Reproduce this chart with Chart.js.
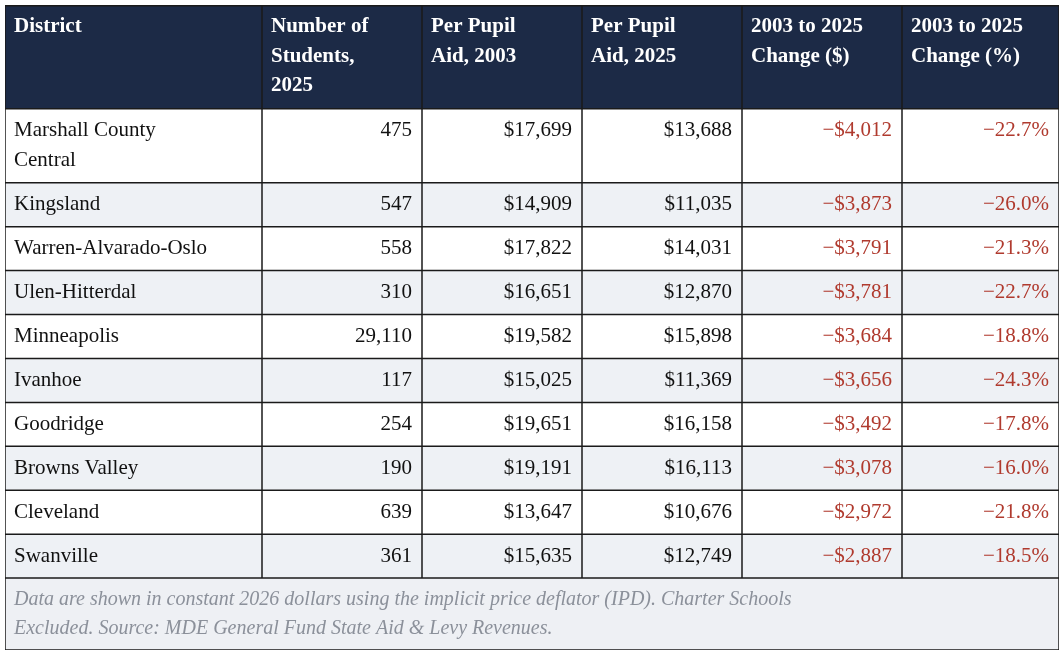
<!DOCTYPE html>
<html><head><meta charset="utf-8">
<script src="https://cdn.jsdelivr.net/npm/chart.js@4"></script>
<style>html,body{margin:0;background:#fff}#w{position:absolute;left:5px;top:5px;width:1054px;height:645px}</style>
</head><body><div id="w"><canvas id="c"></canvas></div>
<script>
const headers=[["District"],["Number of","Students,","2025"],["Per Pupil","Aid, 2003"],["Per Pupil","Aid, 2025"],["2003 to 2025","Change ($)"],["2003 to 2025","Change (%)"]];
const districts=[["Marshall County","Central"],["Kingsland"],["Warren-Alvarado-Oslo"],["Ulen-Hitterdal"],["Minneapolis"],["Ivanhoe"],["Goodridge"],["Browns Valley"],["Cleveland"],["Swanville"]];
const students=[475,547,558,310,29110,117,254,190,639,361];
const aid2003=[17699,14909,17822,16651,19582,15025,19651,19191,13647,15635];
const aid2025=[13688,11035,14031,12870,15898,11369,16158,16113,10676,12749];
const changeDollar=[-4012,-3873,-3791,-3781,-3684,-3656,-3492,-3078,-2972,-2887];
const changePct=[-22.7,-26.0,-21.3,-22.7,-18.8,-24.3,-17.8,-16.0,-21.8,-18.5];
const footnote=["Data are shown in constant 2026 dollars using the implicit price deflator (IPD). Charter Schools","Excluded. Source: MDE General Fund State Aid & Levy Revenues."];
const colWidths=[257,160,160,160,160,157];
const PAD=0.4667;

const fmtN=v=>v.toLocaleString('en-US');
const fmtD=v=>(v<0?'\u2212$':'$')+Math.abs(v).toLocaleString('en-US');
const fmtP=v=>(v<0?'\u2212':'')+Math.abs(v).toFixed(1)+'%';

const rows=[{lines:headers,type:'h',h:3+PAD}];
districts.forEach((d,i)=>rows.push({type:'b',i,h:d.length+PAD,lines:[d,[fmtN(students[i])],[fmtD(aid2003[i])],[fmtD(aid2025[i])],[fmtD(changeDollar[i])],[fmtP(changePct[i])]]}));
rows.push({type:'f',h:2+0.4,lines:footnote});
let acc=0;rows.forEach(r=>{r.y0=acc;acc+=r.h;r.y1=acc;});
const totalH=acc;
const colEdges=[0];colWidths.forEach(w=>colEdges.push(colEdges[colEdges.length-1]+w));

const tablePlugin={id:'table',afterDraw(chart){
 const ctx=chart.ctx,xs=chart.scales.x,ys=chart.scales.y;
 const X=v=>xs.getPixelForValue(v),Y=v=>ys.getPixelForValue(v);
 const unit=Y(1)-Y(0);
 ctx.save();
 rows.forEach((r,ri)=>{
  const top=Y(r.y0),bot=Y(r.y1);
  let bg=r.type==='h'?'#1c2a46':r.type==='f'?'#eef0f4':(r.i%2===1?'#eef1f5':'#ffffff');
  ctx.fillStyle=bg;ctx.fillRect(X(0),top,X(colEdges[6])-X(0),bot-top);
  ctx.textBaseline='middle';
  if(r.type==='f'){
   ctx.font='italic 20px "Liberation Serif"';ctx.fillStyle='#8b909a';ctx.textAlign='left';
   r.lines.forEach((t,k)=>ctx.fillText(t,X(0)+9,top+7+unit/2+k*unit*0.95));
   return;
  }
  r.lines.forEach((cell,c)=>{
   cell.forEach((t,k)=>{
    const yy=top+7+unit/2+k*unit*0.98;
    if(r.type==='h'){ctx.font='bold 21px "Liberation Serif"';ctx.fillStyle='#fff';ctx.textAlign='left';ctx.fillText(t,X(colEdges[c])+9,yy);}
    else{ctx.font='21px "Liberation Serif"';ctx.fillStyle=c>=4?'#b03a2e':'#111';
     if(c===0){ctx.textAlign='left';ctx.fillText(t,X(colEdges[c])+9,yy);}
     else{ctx.textAlign='right';ctx.fillText(t,X(colEdges[c+1])-10,yy);}}
   });
  });
 });
 ctx.strokeStyle='#1a1a1a';ctx.lineWidth=1.5;
 const lastBody=rows[rows.length-2].y1;
 rows.forEach(r=>{ctx.beginPath();ctx.moveTo(X(0),Y(r.y1));ctx.lineTo(X(colEdges[6]),Y(r.y1));ctx.stroke();});
 colEdges.forEach((e,i)=>{ctx.beginPath();ctx.moveTo(X(e),Y(0));ctx.lineTo(X(e),Y((i===0||i===6)?totalH:lastBody));ctx.stroke();});
 ctx.beginPath();ctx.moveTo(X(0),Y(0)+0.75);ctx.lineTo(X(colEdges[6]),Y(0)+0.75);ctx.stroke();
 ctx.restore();
}};

new Chart(document.getElementById('c'),{type:'scatter',data:{datasets:[{data:[]}]},
 options:{responsive:true,maintainAspectRatio:false,animation:false,layout:{padding:0},
  plugins:{legend:{display:false},tooltip:{enabled:false}},
  scales:{x:{type:'linear',min:0,max:colEdges[6],display:false},y:{type:'linear',min:0,max:totalH,reverse:true,display:false}}},
 plugins:[tablePlugin]});
</script></body></html>
